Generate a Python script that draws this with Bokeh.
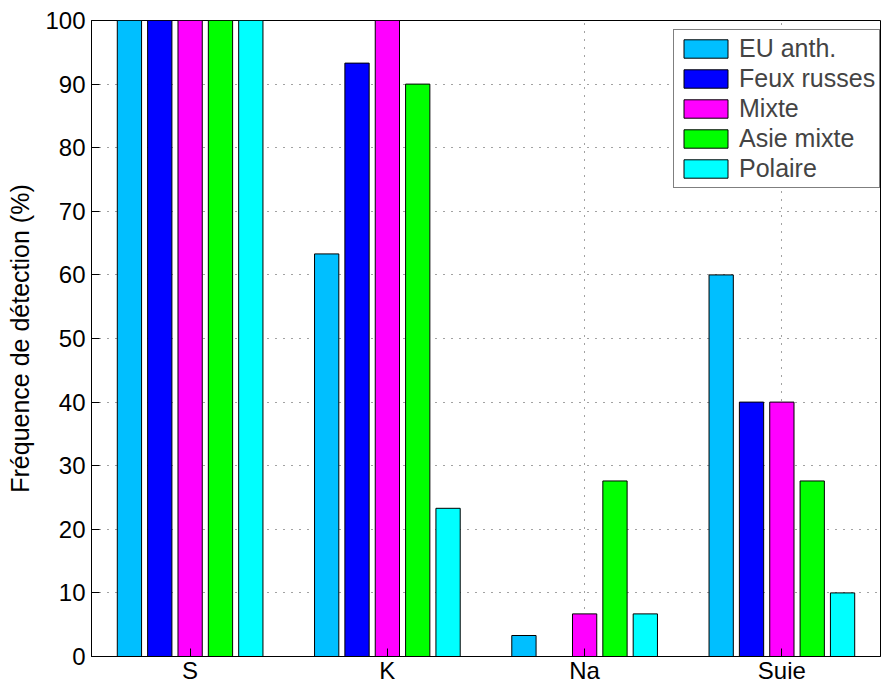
from bokeh.plotting import figure
from bokeh.models import FixedTicker, Legend, LegendItem, Range1d
from bokeh.embed import file_html
from bokeh.resources import INLINE

# ---- data ----
categories = ["S", "K", "Na", "Suie"]
series_names = ["EU anth.", "Feux russes", "Mixte", "Asie mixte", "Polaire"]
eu_anth = [100, 63.3, 3.3, 60]
feux_russes = [100, 93.3, 0, 40]
mixte = [100, 100, 6.7, 40]
asie_mixte = [100, 90, 27.6, 27.6]
polaire = [100, 23.3, 6.7, 10]
series_values = [eu_anth, feux_russes, mixte, asie_mixte, polaire]
colors = ["#00BFFF", "#0000FF", "#FF00FF", "#00FF00", "#00FFFF"]
y_ticks = list(range(0, 101, 10))
y_label = "Fréquence de détection (%)"

FONT = "Liberation Sans"
cat_pos = list(range(1, len(categories) + 1))

p = figure(width=885, height=686,
           x_range=Range1d(0.5, len(categories) + 0.5), y_range=Range1d(0, 100),
           output_backend="svg", toolbar_location=None,
           min_border_top=20, min_border_right=5, min_border_left=91, min_border_bottom=30)

n = len(series_names)
group_w = min(0.8, n / (n + 1.5))
slot = group_w / n
bar_w = slot * 0.8

items = []
for i, (name, vals, col) in enumerate(zip(series_names, series_values, colors)):
    off = (i - (n - 1) / 2) * slot
    xs = [c + off for c in cat_pos]
    r = p.vbar(x=xs, top=vals, bottom=0, width=bar_w, fill_color=col,
               line_color="black", line_width=1)
    items.append(LegendItem(label=name, renderers=[r]))

# axes
xt = FixedTicker(ticks=cat_pos)
yt = FixedTicker(ticks=y_ticks)
p.xaxis.ticker = xt
p.xaxis.major_label_overrides = {c: lab for c, lab in zip(cat_pos, categories)}
p.yaxis.ticker = yt
p.yaxis.axis_label = y_label

for ax in [p.xaxis[0], p.yaxis[0]]:
    ax.major_label_text_font = FONT
    ax.major_label_text_font_size = "24px"
    ax.major_label_text_color = "black"
    ax.axis_line_color = "black"
    ax.axis_line_width = 1
    ax.major_tick_in = 8
    ax.major_tick_out = 0
    ax.major_tick_line_color = "black"
    ax.minor_tick_line_color = None
p.xaxis.major_label_standoff = 0
p.yaxis.major_label_standoff = 6
p.yaxis.axis_label_text_font = FONT
p.yaxis.axis_label_text_font_size = "25px"
p.yaxis.axis_label_text_font_style = "normal"
p.yaxis.axis_label_text_color = "black"
p.yaxis.axis_label_standoff = 8

p.outline_line_color = "black"
p.outline_line_width = 1

for g, t in [(p.xgrid, xt), (p.ygrid, yt)]:
    g.ticker = t
    g.grid_line_color = "#444444"
    g.grid_line_dash = "1 7"
    g.grid_line_width = 1

legend = Legend(items=items, location=(582, 468),
                label_text_font=FONT, label_text_font_size="25px",
                glyph_width=55, glyph_height=23, label_standoff=6,
                padding=4, spacing=1, margin=0,
                border_line_color="black", border_line_width=1,
                background_fill_color="white", background_fill_alpha=1)
p.add_layout(legend)

open("out.html", "w").write(file_html(p, INLINE))
